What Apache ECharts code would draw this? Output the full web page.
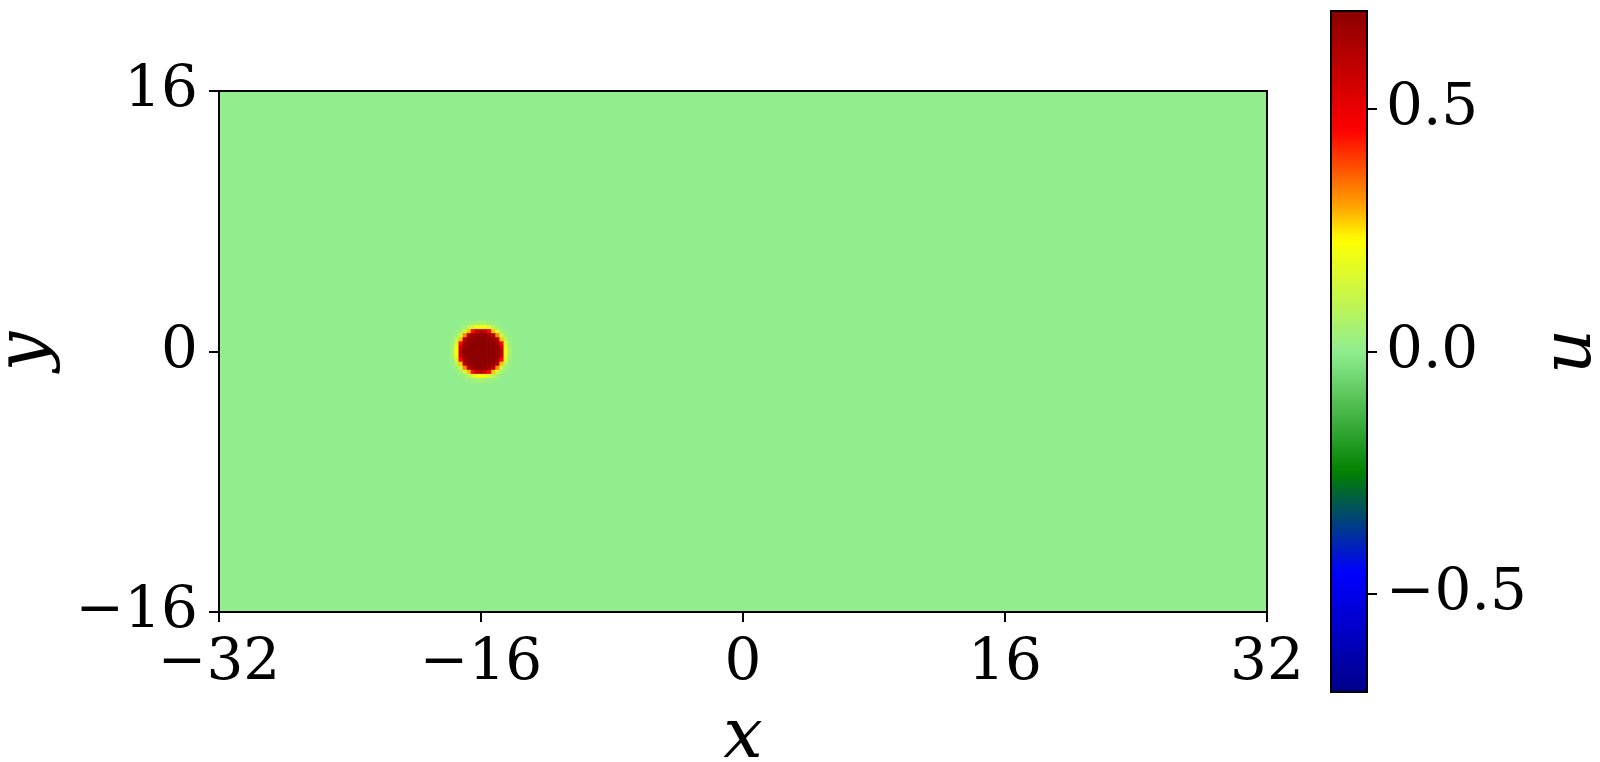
<!DOCTYPE html>
<html>
<head>
<meta charset="utf-8">
<script src="https://cdn.jsdelivr.net/npm/echarts@6/dist/echarts.min.js"></script>
<style>
  html, body { margin: 0; padding: 0; background: #fff; }
  #chart { width: 1600px; height: 762px; }
</style>
</head>
<body>
<div id="chart"></div>
<script>
// axes
const xRange = [-32, 32];
const yRange = [-16, 16];
const xTickStep = 16;
const yTickStep = 16;
const uRange = [-0.702, 0.702];
const uTicks = [-0.5, 0, 0.5];

// field: flat background plus the soliton sampled on a 0.25 grid
const backgroundU = 0.005;
const blobCenter = [-16, 0];
const cellSize = 0.25;
const blobOffsets = [-7, -6, -5, -4, -3, -2, -1, 0, 1, 2, 3, 4, 5, 6, 7];
// rows from top (y = +7 cells) to bottom (y = -7 cells)
const blobU = [
  [0, 0, .005, .01, .02, .03, .045, .05, .045, .03, .02, .01, .005, 0, 0],
  [0, .005, .015, .035, .09, .15, .20, .22, .20, .15, .09, .035, .015, .005, 0],
  [.005, .015, .045, .13, .27, .45, .57, .60, .57, .45, .27, .13, .045, .015, .005],
  [.01, .035, .13, .32, .60, .66, .68, .69, .68, .66, .60, .32, .13, .035, .01],
  [.02, .09, .27, .60, .68, .69, .70, .70, .70, .69, .68, .60, .27, .09, .02],
  [.03, .15, .45, .66, .69, .70, .70, .70, .70, .70, .69, .66, .45, .15, .03],
  [.045, .20, .57, .68, .70, .70, .70, .70, .70, .70, .70, .68, .57, .20, .045],
  [.05, .22, .60, .69, .70, .70, .70, .70, .70, .70, .70, .69, .60, .22, .05],
  [.045, .20, .57, .68, .70, .70, .70, .70, .70, .70, .70, .68, .57, .20, .045],
  [.03, .15, .45, .66, .69, .70, .70, .70, .70, .70, .69, .66, .45, .15, .03],
  [.02, .09, .27, .60, .68, .69, .70, .70, .70, .69, .68, .60, .27, .09, .02],
  [.01, .035, .13, .32, .60, .66, .68, .69, .68, .66, .60, .32, .13, .035, .01],
  [.005, .015, .045, .13, .27, .45, .57, .60, .57, .45, .27, .13, .045, .015, .005],
  [0, .005, .015, .035, .09, .15, .20, .22, .20, .15, .09, .035, .015, .005, 0],
  [0, 0, .005, .01, .02, .03, .045, .05, .045, .03, .02, .01, .005, 0, 0]
];

// colormap stops (position in 0..1, colour)
const cmapStops = [
  [0, [0, 0, 139]],
  [0.175, [0, 0, 255]],
  [0.322, [0, 128, 0]],
  [0.5, [144, 238, 144]],
  [0.664, [255, 255, 0]],
  [0.712, [255, 165, 0]],
  [0.825, [255, 0, 0]],
  [1, [139, 0, 0]]
];

const PLOT = { left: 219, top: 91, width: 1048, height: 521 };
const CBAR = { left: 1331, top: 11, width: 36, height: 681 };
const FONT = "DejaVu Serif";

function cmapAt(t) {
  for (let i = 1; i < cmapStops.length; i++) {
    const [p1, c1] = cmapStops[i];
    const [p0, c0] = cmapStops[i - 1];
    if (t <= p1) {
      const f = (t - p0) / (p1 - p0);
      const c = c0.map((v, k) => Math.round(v + (c1[k] - v) * f));
      return `rgb(${c[0]},${c[1]},${c[2]})`;
    }
  }
  const c = cmapStops[cmapStops.length - 1][1];
  return `rgb(${c[0]},${c[1]},${c[2]})`;
}
const cmapColors = [];
for (let i = 0; i <= 140; i++) cmapColors.push(cmapAt(i / 140));

const cells = [];
cells.push([0, 0, xRange[1] - xRange[0], yRange[1] - yRange[0], backgroundU]);
blobU.forEach((row, r) => {
  const dy = blobOffsets[blobOffsets.length - 1 - r];
  row.forEach((u, c) => {
    const dx = blobOffsets[c];
    cells.push([blobCenter[0] + dx * cellSize, blobCenter[1] + dy * cellSize, cellSize, cellSize, u]);
  });
});

const fmtInt = v => (v < 0 ? "\u2212" + Math.abs(v) : String(v));
const fmtU = v => (v < 0 ? "\u2212" + Math.abs(v).toFixed(1) : v.toFixed(1));

const lineStyle = { color: "#000", width: 2 };
const tickStyle = { show: true, inside: false, length: 10, lineStyle: lineStyle };
const labelStyle = { color: "#000", fontFamily: FONT, fontSize: 58, hideOverlap: false };
const nameStyle = { color: "#000", fontFamily: FONT, fontSize: 70, fontStyle: "italic" };

const chart = echarts.init(document.getElementById("chart"));
chart.setOption({
  backgroundColor: "#fff",
  animation: false,
  grid: [
    Object.assign({ containLabel: false, outerBoundsMode: "none" }, PLOT),
    Object.assign({ containLabel: false, outerBoundsMode: "none" }, CBAR)
  ],
  xAxis: [
    {
      type: "value", gridIndex: 0,
      min: xRange[0], max: xRange[1], interval: xTickStep,
      axisLine: { show: true, onZero: false, lineStyle: lineStyle },
      axisTick: tickStyle,
      splitLine: { show: false },
      axisLabel: Object.assign({ margin: 23, formatter: fmtInt, showMinLabel: true, showMaxLabel: true }, labelStyle),
      name: "x", nameLocation: "middle", nameGap: 92,
      nameTextStyle: nameStyle
    },
    { type: "value", gridIndex: 1, show: false, min: 0, max: 1 }
  ],
  yAxis: [
    {
      type: "value", gridIndex: 0,
      min: yRange[0], max: yRange[1], interval: yTickStep,
      axisLine: { show: true, onZero: false, lineStyle: lineStyle },
      axisTick: tickStyle,
      splitLine: { show: false },
      axisLabel: Object.assign({ margin: 21, padding: [12, 0, 0, 0], formatter: fmtInt, showMinLabel: true, showMaxLabel: true }, labelStyle),
      name: "y", nameLocation: "middle", nameRotate: 90, nameGap: 157,
      nameTextStyle: nameStyle
    },
    {
      type: "value", gridIndex: 1, position: "right",
      min: uRange[0], max: uRange[1],
      axisLine: { show: true, onZero: false, lineStyle: lineStyle },
      axisTick: Object.assign({ customValues: uTicks }, tickStyle),
      splitLine: { show: false },
      axisLabel: Object.assign({ margin: 19, padding: [12, 0, 0, 0], customValues: uTicks, formatter: fmtU }, labelStyle),
      name: "u", nameLocation: "middle", nameRotate: 90, nameGap: 170,
      nameTextStyle: nameStyle
    }
  ],
  visualMap: {
    type: "continuous",
    seriesIndex: 0,
    dimension: 4,
    min: uRange[0],
    max: uRange[1],
    calculable: false,
    hoverLink: false,
    left: CBAR.left,
    top: CBAR.top,
    itemWidth: CBAR.width,
    itemHeight: CBAR.height,
    padding: 0,
    text: null,
    inRange: { color: cmapColors }
  },
  series: [{
    type: "custom",
    coordinateSystem: "cartesian2d",
    xAxisIndex: 0,
    yAxisIndex: 0,
    clip: true,
    encode: { x: 0, y: 1 },
    data: cells,
    renderItem: function (params, api) {
      const x = api.value(0), y = api.value(1), w = api.value(2), h = api.value(3);
      const p0 = api.coord([x - w / 2, y + h / 2]);
      const p1 = api.coord([x + w / 2, y - h / 2]);
      return {
        type: "rect",
        shape: { x: p0[0], y: p0[1], width: p1[0] - p0[0] + 0.6, height: p1[1] - p0[1] + 0.6 },
        style: { fill: api.visual("color") }
      };
    }
  }],
  graphic: [
    {
      type: "rect", z: 100, silent: true,
      shape: { x: PLOT.left, y: PLOT.top, width: PLOT.width, height: PLOT.height },
      style: { fill: null, stroke: "#000", lineWidth: 2 }
    },
    {
      type: "rect", z: 100, silent: true,
      shape: { x: CBAR.left, y: CBAR.top, width: CBAR.width, height: CBAR.height },
      style: { fill: null, stroke: "#000", lineWidth: 2 }
    }
  ]
});
</script>
</body>
</html>
